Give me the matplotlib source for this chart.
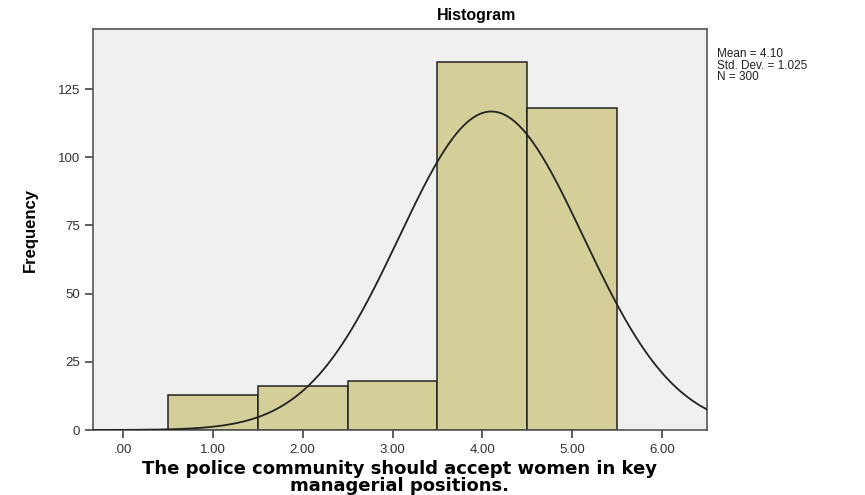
import numpy as np
import matplotlib.pyplot as plt

# response scores and their counts
scores = [1, 2, 3, 4, 5]
counts = [13, 16, 18, 135, 118]
mean, sd, n = 4.10, 1.025, 300

xticks = [0, 1, 2, 3, 4, 5, 6]
xticklabels = ['.00', '1.00', '2.00', '3.00', '4.00', '5.00', '6.00']
yticks = [0, 25, 50, 75, 100, 125]

plt.rcParams['font.family'] = ['Liberation Sans', 'DejaVu Sans']

fig = plt.figure(figsize=(8.65, 4.95), dpi=100)
ax = fig.add_axes([0.1075, 0.1313, 0.7098, 0.8101])
ax.set_facecolor('#f0f0f0')

ax.bar(scores, counts, width=1.0, color='#d4cf98', edgecolor='#222222', linewidth=1.1, zorder=2)

# normal curve scaled to counts (bin width = 1)
xs = np.linspace(-0.4, 6.6, 400)
ys = n / (sd * np.sqrt(2 * np.pi)) * np.exp(-0.5 * ((xs - mean) / sd) ** 2)
ax.plot(xs, ys, color='#222222', linewidth=1.3, zorder=3)

ax.set_xlim(-0.334, 6.50)
ax.set_ylim(0, 147)
ax.set_xticks(xticks)
ax.set_xticklabels(xticklabels)
ax.set_yticks(yticks)
ax.tick_params(axis='both', direction='out', length=6, width=1.2, color='#444444',
               labelsize=9.5, labelcolor='#333333')
ax.tick_params(axis='x', pad=4)
for s in ax.spines.values():
    s.set_color('#555555')
    s.set_linewidth(1.2)

ax.set_ylabel('Frequency', fontsize=12, fontweight='bold',
              family=['Liberation Sans Narrow', 'Liberation Sans'], labelpad=14)
ax.set_xlabel('The police community should accept women in key\nmanagerial positions.',
              fontsize=13, fontweight='bold', family='DejaVu Sans',
              linespacing=0.9, labelpad=3)

fig.text(0.551, 0.968, 'Histogram', ha='center', va='center', fontsize=11.5, fontweight='bold')
fig.text(0.829, 0.903, 'Mean = 4.10\nStd. Dev. = 1.025\nN = 300', ha='left', va='top',
         fontsize=8.5, linespacing=0.95, color='#222222')

fig.savefig('out.png', dpi=100)
